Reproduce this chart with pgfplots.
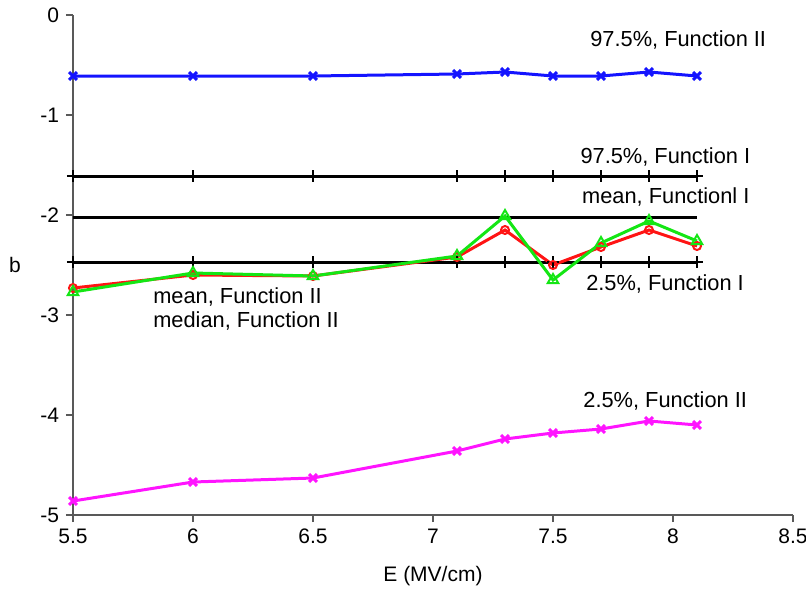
\documentclass[border=0pt]{standalone}
\usepackage{pgfplots}
\pgfplotsset{compat=1.18}
\usepackage{fontspec}
\setmainfont{Liberation Sans}
\definecolor{cblue}{RGB}{20,20,255}
\definecolor{cred}{RGB}{255,20,20}
\definecolor{cgreen}{RGB}{20,230,20}
\definecolor{cmag}{RGB}{255,20,255}
\begin{document}
\begin{tikzpicture}
\useasboundingbox (-36.5pt,-43pt) rectangle (366.5pt,257.5pt);
\begin{axis}[
  scale only axis, width=360pt, height=250pt,
  xmin=5.5, xmax=8.5, ymin=-5, ymax=0,
  axis lines=left, axis line style={-, gray!70!black, line width=0.6pt},
  xtick={5.5,6,6.5,7,7.5,8,8.5}, ytick={-5,-4,-3,-2,-1,0},
  xticklabels={5.5,6,6.5,7,7.5,8,8.5},
  yticklabels={-5,-4,-3,-2,-1,0},
  tick align=outside, major tick length=3.5pt,
  tick style={gray!70!black, line width=0.6pt},
  tick label style={font=\fontsize{10.5}{12}\selectfont},
  label style={font=\fontsize{10.5}{12}\selectfont},
  xlabel={E (MV/cm)}, ylabel={b},
  xlabel style={at={(axis description cs:0.5,0)}, anchor=north, yshift=-22pt},
  ylabel style={rotate=-90, at={(axis description cs:0,0.5)}, anchor=center, xshift=-29pt},
  clip=false,
]
\addplot[black, line width=1.5pt, mark=+, mark size=3pt, mark options={line width=1.4pt}] coordinates {(5.5,-1.61)(6,-1.61)(6.5,-1.61)(7.1,-1.61)(7.3,-1.61)(7.5,-1.61)(7.7,-1.61)(7.9,-1.61)(8.1,-1.61)};
\addplot[black, line width=1.5pt, mark=none] coordinates {(5.5,-2.02)(6,-2.02)(6.5,-2.02)(7.1,-2.02)(7.3,-2.02)(7.5,-2.02)(7.7,-2.02)(7.9,-2.02)(8.1,-2.02)};
\addplot[black, line width=1.5pt, mark=+, mark size=3pt, mark options={line width=1.4pt}] coordinates {(5.5,-2.47)(6,-2.47)(6.5,-2.47)(7.1,-2.47)(7.3,-2.47)(7.5,-2.47)(7.7,-2.47)(7.9,-2.47)(8.1,-2.47)};
\addplot[cred, line width=1.5pt, mark=o, mark size=2pt, mark options={line width=1pt}] coordinates {(5.5,-2.73)(6,-2.60)(6.5,-2.61)(7.1,-2.42)(7.3,-2.15)(7.5,-2.50)(7.7,-2.32)(7.9,-2.15)(8.1,-2.31)};
\addplot[cgreen, line width=1.5pt, mark=triangle, mark size=3pt, mark options={line width=1pt}] coordinates {(5.5,-2.77)(6,-2.58)(6.5,-2.61)(7.1,-2.41)(7.3,-2.01)(7.5,-2.65)(7.7,-2.28)(7.9,-2.06)(8.1,-2.26)};
\addplot[cblue, line width=1.5pt, mark=x, mark size=2.8pt, mark options={line width=1.5pt}] coordinates {(5.5,-0.61)(6,-0.61)(6.5,-0.61)(7.1,-0.59)(7.3,-0.57)(7.5,-0.61)(7.7,-0.61)(7.9,-0.57)(8.1,-0.61)};
\addplot[cmag, line width=1.5pt, mark=x, mark size=2.8pt, mark options={line width=1.5pt}] coordinates {(5.5,-4.86)(6,-4.67)(6.5,-4.63)(7.1,-4.36)(7.3,-4.24)(7.5,-4.18)(7.7,-4.14)(7.9,-4.06)(8.1,-4.10)};
\begin{scope}[every node/.style={anchor=west, inner sep=0pt, font=\fontsize{10.9}{12}\selectfont}]
\node at (axis cs:7.654,-0.25) {97.5\%, Function II};
\node at (axis cs:7.613,-1.42) {97.5\%, Function I};
\node at (axis cs:7.62,-1.82) {mean, Functionl I};
\node at (axis cs:7.637,-2.69) {2.5\%, Function I};
\node at (axis cs:5.833,-2.82) {mean, Function II};
\node at (axis cs:5.833,-3.06) {median, Function II};
\node at (axis cs:7.625,-3.86) {2.5\%, Function II};
\end{scope}
\end{axis}
\end{tikzpicture}
\end{document}
